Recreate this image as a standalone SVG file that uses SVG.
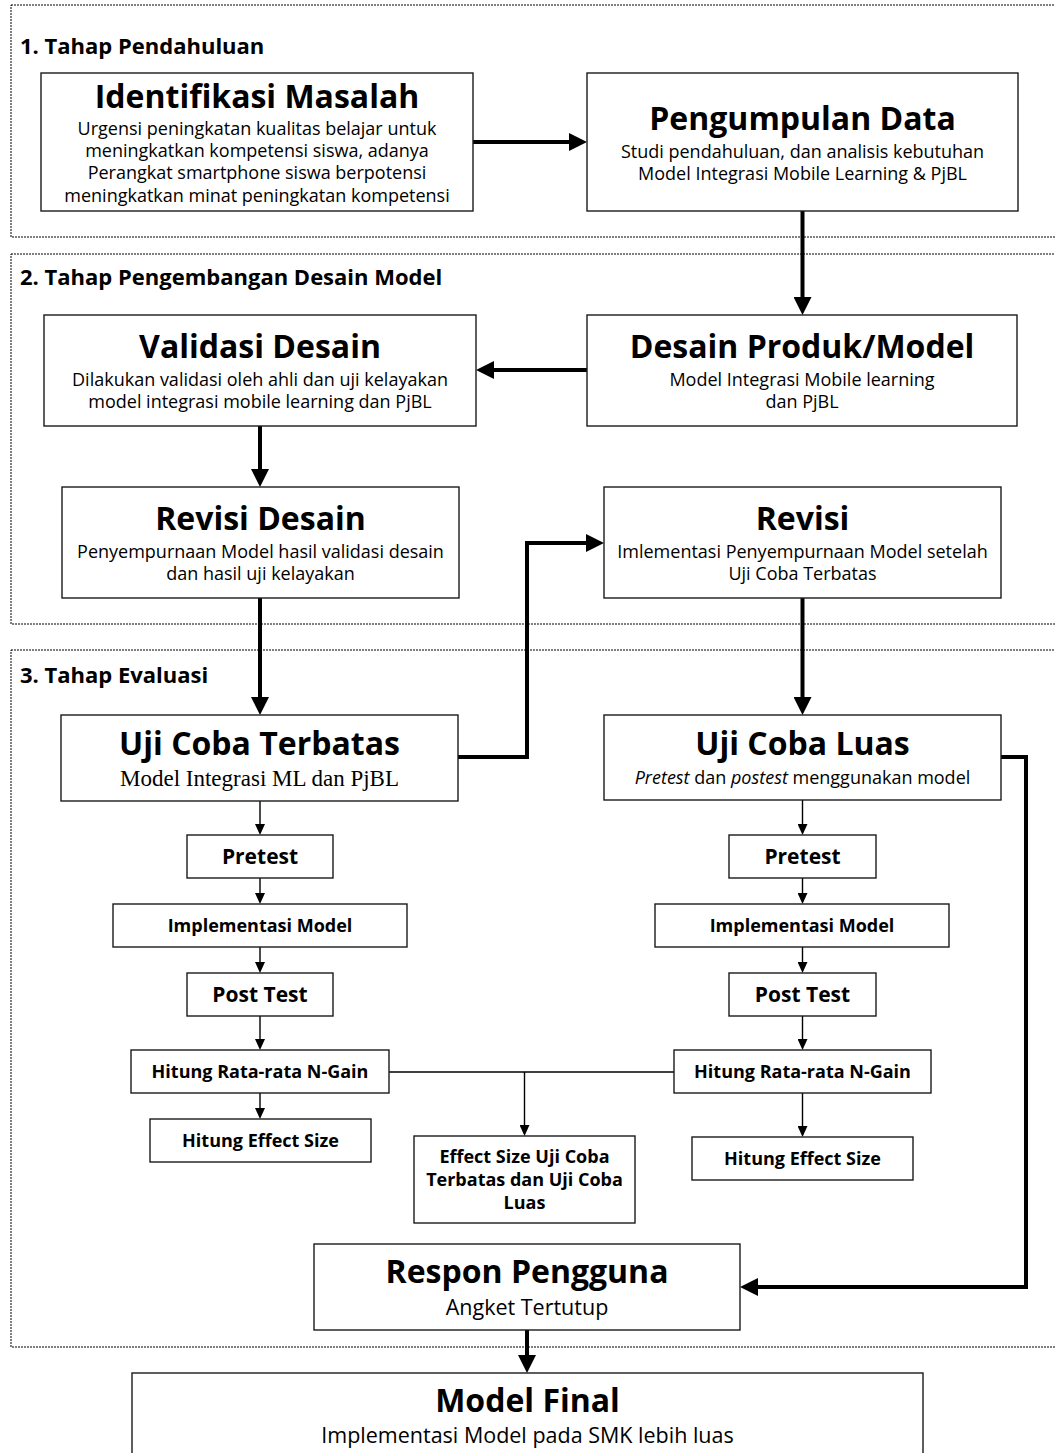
<svg xmlns="http://www.w3.org/2000/svg" width="1055" height="1453" viewBox="0 0 1055 1453">
<style>
.frame{fill:none;stroke:#000;stroke-width:1;stroke-dasharray:2 1}
.box{fill:#fff;stroke:#1a1a1a;stroke-width:1.4}
.sec{font-family:'Open Sans','Noto Sans',sans-serif;font-weight:700;font-size:22px;fill:#000}
.title{font-family:'Open Sans','Noto Sans',sans-serif;font-weight:700;font-size:32px;fill:#000;text-anchor:middle}
.body{font-family:'Open Sans','Noto Sans',sans-serif;font-size:18px;fill:#000;text-anchor:middle}
.body2{font-family:'Open Sans','Noto Sans',sans-serif;font-size:21.5px;fill:#000;text-anchor:middle}
.serif{font-family:'Liberation Serif','Times New Roman',serif;font-size:23px;fill:#000;text-anchor:middle}
.sm{font-family:'Open Sans','Noto Sans',sans-serif;font-weight:700;font-size:18px;fill:#000;text-anchor:middle}
.md{font-family:'Open Sans','Noto Sans',sans-serif;font-weight:700;font-size:21px;fill:#000;text-anchor:middle}
.thick{fill:none;stroke:#000;stroke-width:4;marker-end:url(#ahT)}
.thin{fill:none;stroke:#000;stroke-width:1.4;marker-end:url(#ahS)}
.plain{fill:none;stroke:#000;stroke-width:1.4}
</style>
<defs>
<marker id="ahT" markerUnits="userSpaceOnUse" markerWidth="18" markerHeight="18" refX="8" refY="9" orient="auto">
<path d="M0,0 L18,9 L0,18 Z" fill="#000"/>
</marker>
<marker id="ahS" markerUnits="userSpaceOnUse" markerWidth="11" markerHeight="10" refX="5" refY="5" orient="auto">
<path d="M0,0 L11,5 L0,10 Z" fill="#000"/>
</marker>
</defs>
<rect width="1055" height="1453" fill="#fff"/>

<g id="sections">
<rect class="frame" x="11" y="5" width="1060" height="232"/>
<rect class="frame" x="11" y="254" width="1060" height="370"/>
<rect class="frame" x="11" y="650" width="1060" height="697"/>
<text class="sec" x="20" y="54">1. Tahap Pendahuluan</text>
<text class="sec" x="20" y="285">2. Tahap Pengembangan Desain Model</text>
<text class="sec" x="20" y="683">3. Tahap Evaluasi</text>
</g>

<g id="connectors">
<path class="thick" d="M473,142 H577"/>
<path class="thick" d="M802.5,211 V305"/>
<path class="thick" d="M587,370 H486"/>
<path class="thick" d="M260,426 V477"/>
<path class="thick" d="M260,598 V705"/>
<path class="thick" d="M458,757 H527 V543 H594"/>
<path class="thick" d="M802.5,598 V705"/>
<path class="thick" d="M1001,757 H1026 V1287 H750"/>
<path class="thick" d="M527,1330 V1363"/>
<path class="thin" d="M260,801 V829"/>
<path class="thin" d="M260,878 V898"/>
<path class="thin" d="M260,947 V967"/>
<path class="thin" d="M260,1016 V1044"/>
<path class="thin" d="M260,1093 V1113"/>
<path class="thin" d="M802.5,800 V829"/>
<path class="thin" d="M802.5,878 V898"/>
<path class="thin" d="M802.5,947 V967"/>
<path class="thin" d="M802.5,1016 V1044"/>
<path class="thin" d="M802.5,1093 V1131"/>
<path class="plain" d="M389,1072 H674"/>
<path class="thin" d="M524.5,1072 V1130"/>
</g>

<g id="n-identifikasi">
<rect class="box" x="41" y="73" width="432" height="138"/>
<text class="title" x="257" y="108">Identifikasi Masalah</text>
<text class="body" x="257" y="134.5">Urgensi peningkatan kualitas belajar untuk</text>
<text class="body" x="257" y="157">meningkatkan kompetensi siswa, adanya</text>
<text class="body" x="257" y="179">Perangkat smartphone siswa berpotensi</text>
<text class="body" x="257" y="201.5">meningkatkan minat peningkatan kompetensi</text>
</g>

<g id="n-pengumpulan">
<rect class="box" x="587" y="73" width="431" height="138"/>
<text class="title" x="802.5" y="130">Pengumpulan Data</text>
<text class="body" x="802.5" y="157.5">Studi pendahuluan, dan analisis kebutuhan</text>
<text class="body" x="802.5" y="180">Model Integrasi Mobile Learning &amp; PjBL</text>
</g>

<g id="n-desain-produk">
<rect class="box" x="587" y="315" width="430" height="111"/>
<text class="title" x="802" y="358">Desain Produk/Model</text>
<text class="body" x="802" y="386">Model Integrasi Mobile learning</text>
<text class="body" x="802" y="408">dan PjBL</text>
</g>

<g id="n-validasi">
<rect class="box" x="44" y="315" width="432" height="111"/>
<text class="title" x="260" y="358">Validasi Desain</text>
<text class="body" x="260" y="386">Dilakukan validasi oleh ahli dan uji kelayakan</text>
<text class="body" x="260" y="408">model integrasi mobile learning dan PjBL</text>
</g>

<g id="n-revisi-desain">
<rect class="box" x="62" y="487" width="397" height="111"/>
<text class="title" x="260.5" y="530">Revisi Desain</text>
<text class="body" x="260.5" y="558">Penyempurnaan Model hasil validasi desain</text>
<text class="body" x="260.5" y="580">dan hasil uji kelayakan</text>
</g>

<g id="n-revisi">
<rect class="box" x="604" y="487" width="397" height="111"/>
<text class="title" x="802.5" y="530">Revisi</text>
<text class="body" x="802.5" y="558">Imlementasi Penyempurnaan Model setelah</text>
<text class="body" x="802.5" y="580">Uji Coba Terbatas</text>
</g>

<g id="n-uji-terbatas">
<rect class="box" x="61" y="715" width="397" height="86"/>
<text class="title" x="259.5" y="755">Uji Coba Terbatas</text>
<text class="serif" x="259.5" y="786">Model Integrasi ML dan PjBL</text>
</g>

<g id="n-uji-luas">
<rect class="box" x="604" y="715" width="397" height="85"/>
<text class="title" x="802.5" y="755">Uji Coba Luas</text>
<text class="body" x="802.5" y="783.5"><tspan font-style="italic">Pretest</tspan> dan <tspan font-style="italic">postest</tspan> menggunakan model</text>
</g>

<g id="n-pretest-l">
<rect class="box" x="187" y="835" width="146" height="43"/>
<text class="md" x="260" y="864">Pretest</text>
</g>
<g id="n-impl-l">
<rect class="box" x="113" y="904" width="294" height="43"/>
<text class="sm" x="260" y="932">Implementasi Model</text>
</g>
<g id="n-post-l">
<rect class="box" x="187" y="973" width="146" height="43"/>
<text class="md" x="260" y="1001.5">Post Test</text>
</g>
<g id="n-ngain-l">
<rect class="box" x="131" y="1050" width="258" height="43"/>
<text class="sm" x="260" y="1078">Hitung Rata-rata N-Gain</text>
</g>
<g id="n-effect-l">
<rect class="box" x="150" y="1119" width="221" height="43"/>
<text class="sm" x="260.5" y="1147">Hitung Effect Size</text>
</g>

<g id="n-pretest-r">
<rect class="box" x="729" y="835" width="147" height="43"/>
<text class="md" x="802.5" y="864">Pretest</text>
</g>
<g id="n-impl-r">
<rect class="box" x="655" y="904" width="294" height="43"/>
<text class="sm" x="802" y="932">Implementasi Model</text>
</g>
<g id="n-post-r">
<rect class="box" x="729" y="973" width="147" height="43"/>
<text class="md" x="802.5" y="1001.5">Post Test</text>
</g>
<g id="n-ngain-r">
<rect class="box" x="674" y="1050" width="257" height="43"/>
<text class="sm" x="802.5" y="1078">Hitung Rata-rata N-Gain</text>
</g>
<g id="n-effect-r">
<rect class="box" x="692" y="1137" width="221" height="43"/>
<text class="sm" x="802.5" y="1165">Hitung Effect Size</text>
</g>

<g id="n-effect-mid">
<rect class="box" x="414" y="1136" width="221" height="87"/>
<text class="sm" x="524.5" y="1163">Effect Size Uji Coba</text>
<text class="sm" x="524.5" y="1186">Terbatas dan Uji Coba</text>
<text class="sm" x="524.5" y="1208.5">Luas</text>
</g>

<g id="n-respon">
<rect class="box" x="314" y="1244" width="426" height="86"/>
<text class="title" x="527" y="1283">Respon Pengguna</text>
<text class="body2" x="527" y="1315">Angket Tertutup</text>
</g>

<g id="n-model-final">
<rect class="box" x="132" y="1373" width="791" height="100"/>
<text class="title" x="527.5" y="1411.5">Model Final</text>
<text class="body2" x="527.5" y="1443">Implementasi Model pada SMK lebih luas</text>
</g>
</svg>
